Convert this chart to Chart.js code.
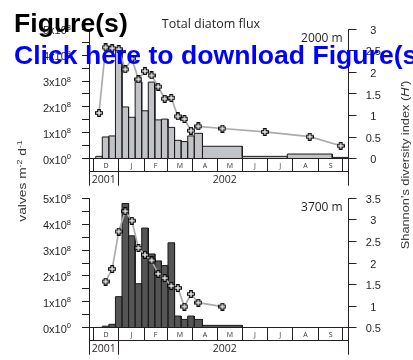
<!DOCTYPE html>
<html>
<head>
<meta charset="utf-8">
<script src="https://cdn.jsdelivr.net/npm/chart.js@4/dist/chart.umd.min.js"></script>
<style>
  html, body { margin: 0; padding: 0; background: #fff; }
  #wrap { position: relative; width: 413px; height: 360px; overflow: hidden; font-family: "Liberation Sans", Arial, sans-serif; }
  #wrap canvas { position: absolute; left: 0; top: 0; }
  .ytitle { position: absolute; white-space: nowrap; text-align: center; color: #333; line-height: 12px; }
  .ytitle sup { font-size: 7px; vertical-align: 4px; line-height: 0; }
  #ytl { left: -38px; top: 175px; width: 120px; font-size: 11px; transform: rotate(-90deg) scaleX(1.25); }
  #ytr { left: 305.5px; top: 158.5px; width: 200px; font-size: 10px; transform: rotate(-90deg) scaleX(1.28); }
  .banner { position: absolute; white-space: nowrap; font-weight: bold; font-size: 26.6px; line-height: 30px; }
  #fig { left: 14px; top: 8px; color: #000; }
  #dl { left: 14px; top: 39.5px; color: #0000ff; }
</style>
</head>
<body>
<div id="wrap">
  <canvas id="panel2000" width="413" height="360"></canvas>
  <canvas id="panel3700" width="413" height="360"></canvas>
  <div class="ytitle" id="ytl">valves m<sup>-2</sup> d<sup>-1</sup></div>
  <div class="ytitle" id="ytr">Shannon's diversity index (<i>H'</i>)</div>
  <div class="banner" id="fig">Figure(s)</div>
  <div class="banner" id="dl">Click here to download Figure(s)</div>
</div>
<script>
// Sampling-cup boundaries, in days since 1 December 2001
const cupEdges = [3, 11, 19, 27, 35, 43, 51, 59, 67, 75, 83, 91, 99, 107, 115, 123, 133, 181.5, 236.3, 291, 311.6];

// Total diatom flux per cup (x10^8 valves m-2 d-1)
const flux2000 = [0.09, 0.84, 0.88, 4.2, 2.0, 1.6, 2.97, 1.85, 2.96, 1.5, 1.53, 1.21, 0.71, 0.66, 0.88, 0.98, 0.48, 0.09, 0.18, 0.05];
const flux3700 = [0.01, 0.06, 0.13, 1.2, 4.8, 3.55, 1.7, 3.85, 2.85, 2.58, 2.4, 3.28, 0.45, 0.32, 0.45, 0.32, 0.09, 0, 0, 0];

// Shannon's diversity index H' per cup
const shannon2000 = [1.06, 2.58, 2.56, 2.54, 2.07, 2.32, 1.84, 2.03, 1.93, 1.67, 1.39, 1.41, 0.98, 0.92, 0.65, 0.75, 0.70, 0.62, 0.51, 0.30];
const shannon3700 = [null, 1.57, 1.86, 2.73, 3.20, 2.98, 2.35, 2.19, 2.06, 1.75, 1.65, 1.47, 1.42, 0.99, 1.28, 1.08, 0.99, null, null, null];

// Calendar axis: month starts (days since 1 Dec 2001) and their letters
const monthStarts = [0, 31, 62, 90, 121, 151, 182, 212, 243, 274, 304];
const monthLetters = ['D', 'J', 'F', 'M', 'A', 'M', 'J', 'J', 'A', 'S'];
const yearLabels = ['2001', '2002'];
const yearStartDay = 31;

// Axis tick values
const fluxTicks = [0, 1, 2, 3, 4, 5];
const shannonTicks2000 = [0, 0.5, 1, 1.5, 2, 2.5, 3];
const shannonTicks3700 = [0.5, 1, 1.5, 2, 2.5, 3, 3.5];

const INK = '#231f20';
const snap = p => Math.floor(p) + 0.5;

// Outlined plus marker used for the diversity series
function plusMarker() {
  const c = document.createElement('canvas');
  c.width = 8; c.height = 8;
  const g = c.getContext('2d');
  const cx = 4, cy = 4, a = 1.3, b = 3.4;
  g.beginPath();
  g.moveTo(cx - a, cy - b); g.lineTo(cx + a, cy - b); g.lineTo(cx + a, cy - a);
  g.lineTo(cx + b, cy - a); g.lineTo(cx + b, cy + a); g.lineTo(cx + a, cy + a);
  g.lineTo(cx + a, cy + b); g.lineTo(cx - a, cy + b); g.lineTo(cx - a, cy + a);
  g.lineTo(cx - b, cy + a); g.lineTo(cx - b, cy - a); g.lineTo(cx - a, cy - a);
  g.closePath();
  g.fillStyle = '#eeeeee'; g.fill();
  g.strokeStyle = '#000'; g.lineWidth = 1.1; g.stroke();
  return c;
}
const marker = plusMarker();

// Histogram outline: every cup drawn as its own box on the shared baseline
function cupOutline(values) {
  const pts = [{ x: cupEdges[0], y: 0 }];
  values.forEach((v, i) => {
    pts.push({ x: cupEdges[i], y: v });
    pts.push({ x: cupEdges[i + 1], y: v });
    pts.push({ x: cupEdges[i + 1], y: 0 });
  });
  return pts;
}

function cupMidpoints(values) {
  return values.map((v, i) => ({ x: (cupEdges[i] + cupEdges[i + 1]) / 2, y: v }));
}

// Axes, tick labels, calendar strip and panel annotations
const framePlugin = {
  id: 'frame',
  afterDraw(chart, args, o) {
    const { ctx, chartArea: ca, scales } = chart;
    const xs = scales.x, yl = scales.y, yr = scales.yR;
    const left = snap(ca.left), right = snap(ca.right);
    const base = snap(ca.bottom);
    const rowBottom = snap(ca.bottom + 13);
    const stripBottom = ca.bottom + 27;

    ctx.save();
    ctx.strokeStyle = INK;
    ctx.lineWidth = 1;
    ctx.beginPath();
    // axis lines, running down through the calendar strip
    ctx.moveTo(left, ca.top); ctx.lineTo(left, stripBottom);
    ctx.moveTo(right, ca.top); ctx.lineTo(right, stripBottom);
    // baseline and month strip
    ctx.moveTo(left, base); ctx.lineTo(right, base);
    ctx.moveTo(left, rowBottom); ctx.lineTo(right, rowBottom);
    monthStarts.forEach(d => {
      const px = snap(xs.getPixelForValue(d));
      ctx.moveTo(px, base); ctx.lineTo(px, rowBottom);
    });
    const yearPx = snap(xs.getPixelForValue(yearStartDay));
    ctx.moveTo(yearPx, rowBottom); ctx.lineTo(yearPx, stripBottom);
    // left ticks every half unit
    for (let v = yl.min; v <= yl.max + 1e-9; v += 0.5) {
      const py = snap(yl.getPixelForValue(v));
      ctx.moveTo(left - 7.5, py); ctx.lineTo(left, py);
    }
    // right ticks
    o.rightTicks.forEach(v => {
      const py = snap(yr.getPixelForValue(v));
      ctx.moveTo(right, py); ctx.lineTo(right + 8, py);
    });
    ctx.stroke();

    ctx.fillStyle = INK;
    // left tick labels: N x 10^8
    fluxTicks.forEach(v => {
      const py = yl.getPixelForValue(v);
      const xr = ca.left - 18;
      const exp = v === 0 ? '0' : '8';
      ctx.textAlign = 'right';
      ctx.textBaseline = 'alphabetic';
      ctx.font = '7.5px "Liberation Sans", Arial, sans-serif';
      const ew = ctx.measureText(exp).width;
      ctx.fillText(exp, xr, py + 0.5);
      ctx.font = '11px "Liberation Sans", Arial, sans-serif';
      ctx.fillText(v + 'x10', xr - ew, py + 5);
    });
    // right tick labels
    ctx.textAlign = 'center';
    ctx.font = '11px "Liberation Sans", Arial, sans-serif';
    o.rightTicks.forEach(v => {
      const py = yr.getPixelForValue(v);
      ctx.fillText(String(v), ca.right + 25, py + 4.5);
    });

    // month letters
    ctx.font = '7px "Open Sans", sans-serif';
    ctx.fillStyle = '#333';
    ctx.textBaseline = 'middle';
    monthLetters.forEach((m, i) => {
      const a = xs.getPixelForValue(monthStarts[i]);
      const b = xs.getPixelForValue(monthStarts[i + 1]);
      ctx.fillText(m, (a + b) / 2, ca.bottom + 7);
    });
    // years
    ctx.font = '10.5px "Open Sans", sans-serif';
    ctx.fillStyle = INK;
    ctx.fillText(yearLabels[0], (ca.left + yearPx) / 2, ca.bottom + 21.5);
    ctx.fillText(yearLabels[1], xs.getPixelForValue(160), ca.bottom + 21.5);

    // depth tag
    ctx.textBaseline = 'alphabetic';
    ctx.textAlign = 'right';
    ctx.font = '12px "Open Sans", sans-serif';
    ctx.fillText(o.depth, ca.right - 5.6, ca.top + 12.3);

    if (o.title) {
      ctx.textAlign = 'center';
      ctx.font = '12.5px "Open Sans", sans-serif';
      ctx.fillText(o.title, 211, 28);
    }
    ctx.restore();
  }
};

function makePanel(id, flux, shannon, barColor, rMin, rMax, rightTicks, top, bottom, depth, title) {
  return new Chart(document.getElementById(id), {
    type: 'line',
    data: {
      datasets: [
        {
          data: cupMidpoints(shannon),
          yAxisID: 'yR',
          borderColor: '#ababab',
          borderWidth: 1.7,
          pointStyle: marker,
          pointRadius: 4,
          tension: 0,
          fill: false,
          order: 1
        },
        {
          data: cupOutline(flux),
          yAxisID: 'y',
          borderColor: '#1c1c1c',
          borderWidth: 1,
          borderJoinStyle: 'miter',
          backgroundColor: barColor,
          fill: 'origin',
          pointRadius: 0,
          tension: 0,
          order: 2
        }
      ]
    },
    options: {
      responsive: false,
      animation: false,
      events: [],
      layout: { padding: { left: 89, right: 413 - 348.3, top: top, bottom: 360 - bottom } },
      plugins: {
        legend: { display: false },
        tooltip: { enabled: false },
        frame: { depth: depth, title: title, rightTicks: rightTicks }
      },
      scales: {
        x: { type: 'linear', display: false, min: -5.2, max: 310.6 },
        y: { display: false, min: 0, max: 5 },
        yR: { display: false, position: 'right', min: rMin, max: rMax }
      }
    },
    plugins: [framePlugin]
  });
}

makePanel('panel2000', flux2000, shannon2000, '#c2c3c7', 0, 3, shannonTicks2000, 29.3, 158.7, '2000 m', 'Total diatom flux');
makePanel('panel3700', flux3700, shannon3700, '#555555', 0.5, 3.5, shannonTicks3700, 198.3, 327.7, '3700 m', null);
</script>
</body>
</html>
